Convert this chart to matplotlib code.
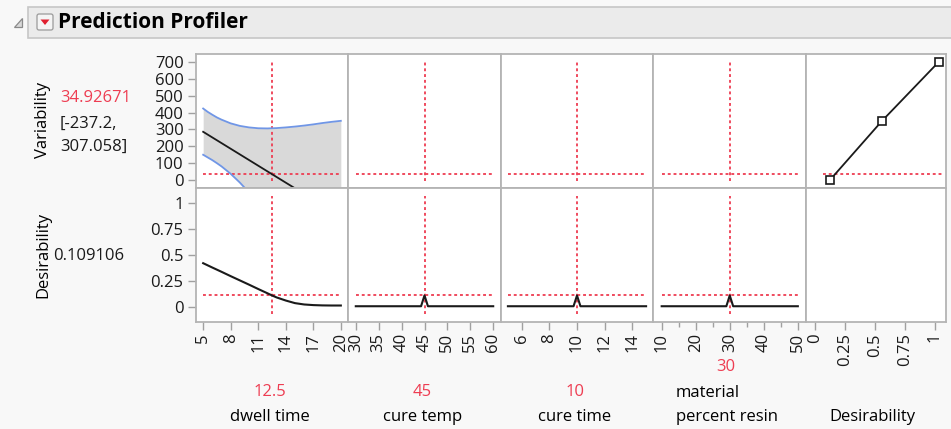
import matplotlib.pyplot as plt
from matplotlib.patches import Rectangle, Polygon, FancyBboxPatch

plt.rcParams['font.family'] = ['Open Sans', 'DejaVu Sans']

W, H = 951, 429

# profile traces
dwell = [5, 5.5, 6, 6.5, 7, 8, 9, 10, 11, 12, 12.5, 13, 14, 15, 16, 17, 18, 19, 20]
var_upper = [424, 404, 387, 371, 358, 336, 321, 312, 307, 306, 307.058, 308, 312, 317, 323,
             330, 338, 345, 351]
var_lower = [150, 134, 118, 100, 81, 37, -15, -74, -137, -204, -237.2, -273, -345, -417,
             -490, -563, -638, -710, -783]
pred_x = [5, 12.5, 20]
var_pred = [286, 34.92671, -216]
desir_x = [5, 6, 7, 8, 9, 10, 11, 12, 12.5, 13, 14, 15, 16, 17, 18, 19, 20]
desir_dwell = [0.42, 0.378, 0.337, 0.295, 0.254, 0.213, 0.171, 0.13, 0.109106,
               0.09, 0.06, 0.035, 0.022, 0.016, 0.013, 0.012, 0.012]

temp_x = [30, 44.25, 45, 45.75, 60]
temp_d = [0.005, 0.005, 0.109106, 0.005, 0.005]
time_x = [5, 9.75, 10, 10.25, 15]
time_d = [0.005, 0.005, 0.109106, 0.005, 0.005]
resin_x = [10, 29, 30, 31, 50]
resin_d = [0.005, 0.005, 0.109106, 0.005, 0.005]

# desirability function
desir_pts = [0.125, 0.56, 1.035]
var_pts = [0, 350, 700]

current = [12.5, 45, 10, 30]
cur_var = 34.92671
cur_desir = 0.109106

factors = ['dwell time', 'cure temp', 'cure time']
x_ranges = [(5, 20), (30, 60), (5, 15), (10, 50)]
x_lims = [(4.22, 20.78), (28.3, 61.7), (4.5, 15.5), (7.45, 52.4)]
x_ticks = [[5, 8, 11, 14, 17, 20], [30, 35, 40, 45, 50, 55, 60],
           [6, 8, 10, 12, 14], [10, 20, 30, 40, 50]]
d_ticks = [0, 0.25, 0.5, 0.75, 1]
d_tick_labels = ['0', '0.25', '0.5', '0.75', '1']
var_ticks = [0, 100, 200, 300, 400, 500, 600, 700]

RED = '#ee3d52'
GRID = '#b4b4b4'
BLUE = '#7096e6'
FS = 12

fig = plt.figure(figsize=(W / 100, H / 100), dpi=100)
fig.patch.set_facecolor('#f8f8f8')

# background layer in pixel coordinates
bg = fig.add_axes([0, 0, 1, 1], zorder=-5)
bg.set_xlim(0, W)
bg.set_ylim(H, 0)
bg.axis('off')
bg.add_patch(Rectangle((28, 7), 940, 31, facecolor='#ebebeb', edgecolor='#c6c6c6', lw=1.2))
bg.add_patch(Polygon([(14, 27), (22, 27), (22, 18)], closed=True,
                     facecolor='#d8d8d8', edgecolor='#8a8a8a', lw=0.9))
bg.add_patch(FancyBboxPatch((37, 14), 16, 16, boxstyle='round,pad=0,rounding_size=2',
                            facecolor='#f4f4f4', edgecolor='#9a9a9a', lw=0.9))
bg.add_patch(Polygon([(40.5, 19.5), (49.5, 19.5), (45, 25)], closed=True,
                     facecolor='#e02030', edgecolor='none'))
bg.text(58, 22.5, 'Prediction Profiler', fontsize=15, fontweight='bold',
        ha='left', va='center', color='black')

cols = [196, 348, 501, 653, 806, 946]
rows = [54, 188, 322]


def panel(c, r):
    x0, x1 = cols[c], cols[c + 1]
    y0, y1 = rows[r], rows[r + 1]
    ax = fig.add_axes([x0 / W, 1 - y1 / H, (x1 - x0) / W, (y1 - y0) / H])
    ax.set_facecolor('white')
    for s in ax.spines.values():
        s.set_color(GRID)
        s.set_linewidth(1.3)
    ax.tick_params(axis='both', which='both', direction='out', color='#a0a0a0',
                   labelsize=FS, labelcolor='#1a1a1a', length=6, width=1, pad=2)
    ax.tick_params(axis='y', pad=3)
    ax.set_xticks([])
    ax.set_yticks([])
    return ax


dots = (0, (1.6, 1.6))

for c in range(4):
    lo, hi = x_ranges[c]
    top = panel(c, 0)
    bot = panel(c, 1)
    for ax in (top, bot):
        ax.set_xlim(*x_lims[c])
    top.set_ylim(-47, 747)
    bot.set_ylim(-0.147, 1.145)

    top.plot([lo, hi], [cur_var, cur_var], color=RED, lw=1.3, ls=dots)
    top.plot([current[c], current[c]], [-8, 700], color=RED, lw=1.3, ls=dots)
    bot.plot([lo, hi], [cur_desir, cur_desir], color=RED, lw=1.3, ls=dots)
    bot.plot([current[c], current[c]], [-0.07, 1.07], color=RED, lw=1.3, ls=dots)

    if c == 0:
        top.fill_between(dwell, var_lower, var_upper, color='#d9d9d9', lw=0, zorder=0)
        top.plot(dwell, var_upper, color=BLUE, lw=1.3)
        top.plot(dwell, var_lower, color=BLUE, lw=1.3)
        top.plot(pred_x, var_pred, color='#1a1a1a', lw=1.3)
        bot.plot(desir_x, desir_dwell, color='#1a1a1a', lw=1.5)
        top.set_yticks(var_ticks)
        bot.set_yticks(d_ticks)
        bot.set_yticklabels(d_tick_labels)
    elif c == 1:
        bot.plot(temp_x, temp_d, color='#1a1a1a', lw=1.5)
    elif c == 2:
        bot.plot(time_x, time_d, color='#1a1a1a', lw=1.5)
    else:
        bot.plot(resin_x, resin_d, color='#1a1a1a', lw=1.5)
        bot.set_xticks([15, 25, 35, 45], minor=True)
        bot.tick_params(axis='x', which='minor', length=3.5)

    bot.set_xticks(x_ticks[c])
    bot.set_xticklabels([str(t) for t in x_ticks[c]], rotation=90)

# desirability column
dtop = panel(4, 0)
dbot = panel(4, 1)
for ax in (dtop, dbot):
    ax.set_xlim(-0.075, 1.096)
dtop.set_ylim(-47, 747)
dbot.set_ylim(-0.147, 1.145)
dtop.plot([0.065, 1.06], [cur_var, cur_var], color=RED, lw=1.3, ls=dots)
dtop.plot(desir_pts, var_pts, color='#1a1a1a', lw=1.3, marker='s', ms=5.5,
          mfc='white', mec='#1a1a1a', mew=1.2)
dbot.set_xticks(d_ticks)
dbot.set_xticklabels(d_tick_labels, rotation=90)

# row labels and current values
fig.text(43 / W, 1 - 120 / H, 'Variability', rotation=90, fontsize=FS,
         ha='center', va='center')
fig.text(60 / W, 1 - 98 / H, f'{cur_var:.5f}', color=RED, fontsize=FS,
         ha='left', va='center')
fig.text(60 / W, 1 - 124 / H, '[-237.2,', color='#1a1a1a', fontsize=FS,
         ha='left', va='center')
fig.text(60 / W, 1 - 147 / H, '307.058]', color='#1a1a1a', fontsize=FS,
         ha='left', va='center')
fig.text(43 / W, 1 - 255 / H, 'Desirability', rotation=90, fontsize=FS,
         ha='center', va='center')
fig.text(53 / W, 1 - 256 / H, f'{cur_desir:.6f}', color='#1a1a1a', fontsize=FS,
         ha='left', va='center')

# factor labels under the columns
cur_labels = ['12.5', '45', '10']
for c in range(3):
    xc = (cols[c] + cols[c + 1]) / 2
    fig.text((xc - 2) / W, 1 - 392 / H, cur_labels[c], color=RED, fontsize=FS,
             ha='center', va='center')
    fig.text((xc - 2) / W, 1 - 417 / H, factors[c], fontsize=FS,
             ha='center', va='center')
fig.text(726 / W, 1 - 367 / H, '30', color=RED, fontsize=FS, ha='center', va='center')
fig.text(676 / W, 1 - 393 / H, 'material', fontsize=FS, ha='left', va='center')
fig.text(676 / W, 1 - 417 / H, 'percent resin', fontsize=FS, ha='left', va='center')
fig.text(872 / W, 1 - 417 / H, 'Desirability', fontsize=FS, ha='center', va='center')

plt.savefig('out.png', dpi=100, facecolor=fig.get_facecolor())
